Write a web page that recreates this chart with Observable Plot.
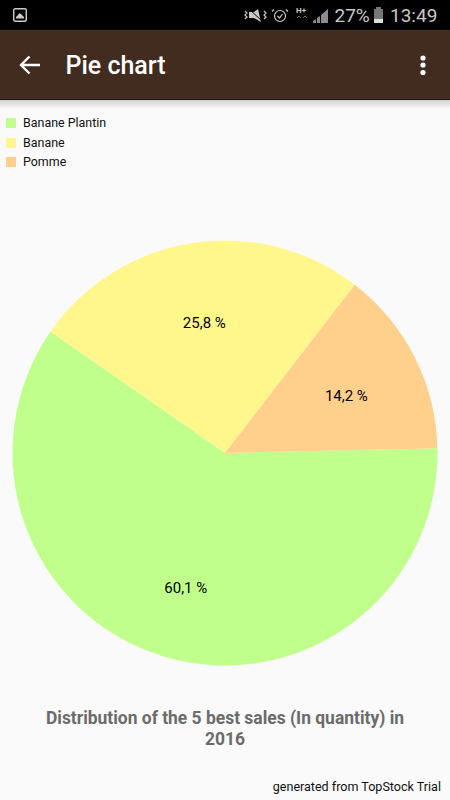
<!DOCTYPE html>
<html><head><meta charset="utf-8">
<script src="https://cdn.jsdelivr.net/npm/d3@7"></script>
<script src="https://cdn.jsdelivr.net/npm/@observablehq/plot@0.6"></script>
<style>
html,body{margin:0;padding:0;background:#fafafa;width:450px;height:800px;overflow:hidden;font-family:Roboto,sans-serif}
.abs{position:absolute;white-space:nowrap}
#status{left:0;top:0;width:450px;height:30px;background:#000}
#bar{left:0;top:30px;width:450px;height:69px;background:#422c1f;border-bottom:1px solid #1e130c;}
#shadow{left:0;top:100px;width:450px;height:9px;background:linear-gradient(#d0d0d0,#fafafa)}
#legend div{position:absolute;left:23px;font-size:12.45px;color:#111;line-height:14px}
#legend i{position:absolute;left:-17px;top:2px;width:10px;height:10px}
#chart{left:0;top:200px}
</style></head><body>
<div class="abs" id="status">
<svg class="abs" style="left:13px;top:8px" width="14" height="14"><rect x=".7" y=".7" width="12.6" height="12.6" rx="1.5" fill="none" stroke="#ccc" stroke-width="1.4"/><path d="M3 10.5 L3 9 L5 7 L6.5 5 L8.5 6.5 L11 9 L11 10.5Z" fill="#ccc"/></svg>
<svg class="abs" style="left:244px;top:8px" width="110" height="17" fill="none" stroke="#c8c8c8" stroke-width="1.2">
<path d="M1 3 l2 2 l-2 2 l2 2 l-2 2 M20 3 l2 2 l-2 2 l2 2 l-2 2"/><path d="M5 4 L10 4 L14 1 L17 14 L10 10 L5 10Z" fill="#c8c8c8" stroke="none"/><path d="M5 1 L18 13" stroke="#000" stroke-width="1"/>
<circle cx="36" cy="8" r="5.5"/><path d="M30 1.5 l-2 2 M42 1.5 l2 2 M33.5 8 l2 2 l3 -4"/>
<path d="M53 10 l2 -2 l2 2 M59 10 l2 -2 l2 2" stroke="#777" stroke-width="1"/>
<path d="M69 15 V13 L72 11 V15Z M73 15 V10 L76 8 V15Z M77 15 V7 L84 1 V15Z" fill="#c8c8c8" stroke="none" opacity=".7"/>
</svg>
<span class="abs" style="left:296px;top:6px;font:bold 8px Roboto;color:#c8c8c8">H+</span>
<span class="abs" style="left:334.5px;top:4px;font-size:19px;color:#c8c8c8">27%</span>
<svg class="abs" style="left:373px;top:7px" width="11" height="17"><rect x="1" y="2" width="9" height="14" fill="#777"/><rect x="3" y="0" width="5" height="2" fill="#777"/><rect x="1" y="12" width="9" height="4" fill="#ddd"/></svg>
<span class="abs" style="left:390px;top:4px;font-size:19px;color:#c8c8c8">13:49</span>
</div>
<div class="abs" id="bar">
<svg class="abs" style="left:19px;top:25px" width="22" height="20" fill="none" stroke="#fff" stroke-width="2.4"><path d="M21 10 H2 M10.5 1.5 L2 10 L10.5 18.5"/></svg>
<span class="abs" style="left:65.5px;top:21px;font-size:25px;font-weight:500;color:#fff;line-height:30px">Pie chart</span>
<svg class="abs" style="left:419px;top:24px" width="8" height="22" fill="#fff"><circle cx="4" cy="4" r="2.6"/><circle cx="4" cy="11" r="2.6"/><circle cx="4" cy="18.5" r="2.6"/></svg>
</div>
<div class="abs" id="shadow"></div>
<div class="abs" id="legend" style="left:0;top:0"></div>
<div class="abs" id="chart"></div>
<div class="abs" style="left:0;top:708px;width:450px;text-align:center;white-space:normal;font-size:17.45px;font-weight:700;color:#6b6b6b;line-height:20.5px;box-sizing:border-box;padding:0 40px">Distribution of the 5 best sales (In quantity) in 2016</div>
<div class="abs" style="right:9px;top:779px;font-size:12.55px;color:#111;line-height:15px">generated from TopStock Trial</div>
<script>
const categories = ["Banane Plantin", "Banane", "Pomme"];
const shares = [60.1, 25.8, 14.2];
const shareLabels = ["60,1 %", "25,8 %", "14,2 %"];
const colors = ["#c0ff8c", "#fff78c", "#ffd08c"];
const startAngle = (88.7 * Math.PI) / 180;

const legend = document.getElementById("legend");
const legendTops = [116, 136, 155];
categories.forEach((c, i) => {
  const d = document.createElement("div");
  d.style.top = legendTops[i] + "px";
  d.innerHTML = `<i style="background:${colors[i]}"></i>${c}`;
  legend.appendChild(d);
});

const radius = 212.5;
const slices = d3.pie().sort(null).startAngle(startAngle).endAngle(startAngle + 2 * Math.PI)(shares)
  .map((s, i) => ({...s, category: categories[i], label: shareLabels[i]}));
const labelRadius = radius * 0.64;
const arc = d3.arc().innerRadius(0).outerRadius(radius);
const mid = (s) => (s.startAngle + s.endAngle) / 2;
const pieMark = (index, scales) => {
  const g = d3.create("svg:g").attr("transform", `translate(${scales.x(0)},${scales.y(0)})`);
  g.selectAll("path").data(slices).join("path")
    .attr("d", arc).attr("fill", (d) => scales.color(d.category));
  return g.node();
};
const chart = Plot.plot({
  width: 450, height: 480,
  margin: 0,
  x: {domain: [-225, 225], range: [0, 450], axis: null},
  y: {domain: [-253, 227], range: [0, 480], axis: null},
  color: {domain: categories, range: colors},
  style: {background: "transparent", fontFamily: "Roboto"},
  marks: [
    pieMark,
    Plot.text(slices, {
      x: (s) => labelRadius * Math.sin(mid(s)),
      y: (s) => -labelRadius * Math.cos(mid(s)),
      dy: 4, dx: -0.5,
      text: "label", fontSize: 15, fill: "#000"
    })
  ]
});
document.getElementById("chart").appendChild(chart);
</script>
</body></html>
